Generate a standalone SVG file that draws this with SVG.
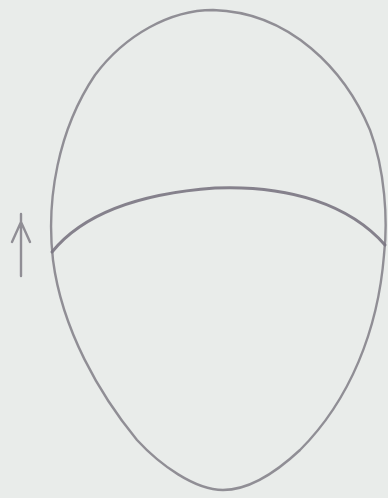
<svg xmlns="http://www.w3.org/2000/svg" width="388" height="498" viewBox="0 0 388 498">
<style>
.pencil{fill:none;stroke:#86848c;stroke-width:2.4;stroke-linecap:round;stroke-linejoin:round;opacity:0.9}
.dark{stroke:#7a7682;stroke-width:3}
</style>
<rect width="388" height="498" fill="#e9ecea"/>
<g id="egg">
<path class="pencil" d="M213,10 C290,12 345,70 370,130 C385,170 388,220 384,255 C378,330 350,400 300,450 C270,478 245,490 223,490 C195,490 160,465 137,440 C100,395 62,330 53,260 C46,200 58,130 95,75 C125,35 170,10 213,10 Z"/>
</g>
<g id="band">
<path class="pencil dark" d="M52,252 C90,205 160,192 215,188 C290,185 350,205 385,245"/>
</g>
<g id="arrow">
<path class="pencil" d="M21,276 L21,214 M12,242 L21,222 L30,242"/>
</g>
</svg>
